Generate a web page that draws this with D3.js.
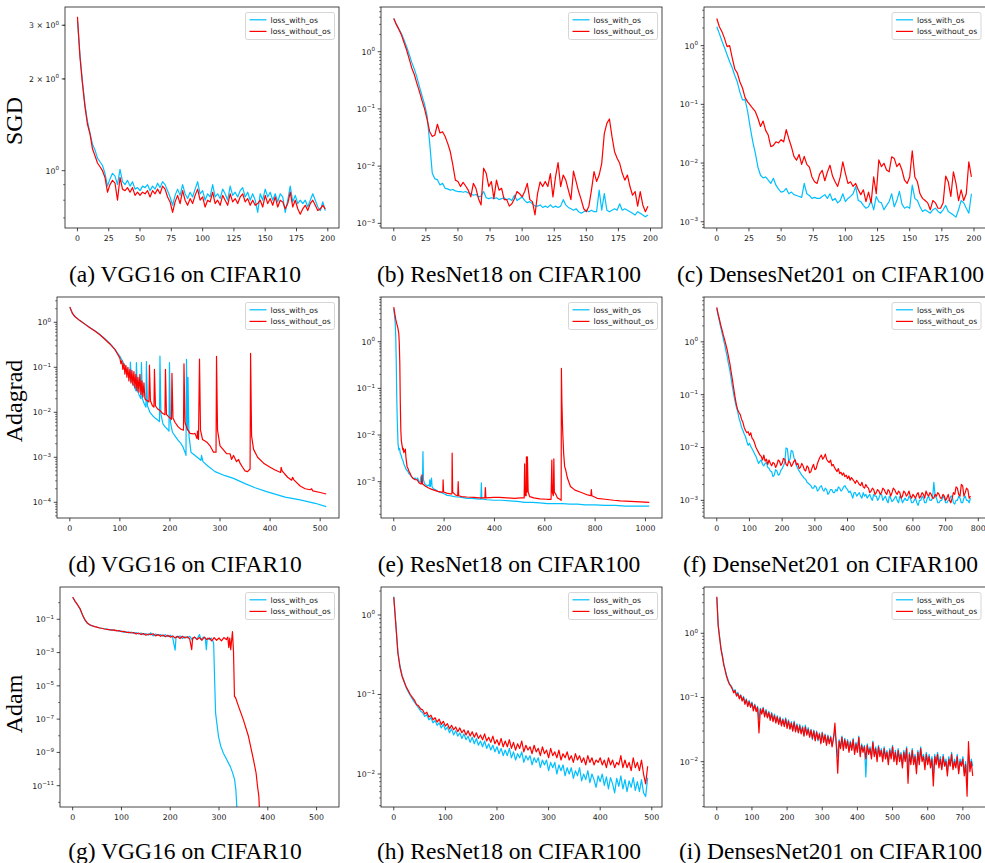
<!DOCTYPE html>
<html><head><meta charset="utf-8">
<script src="https://cdn.jsdelivr.net/npm/d3@7"></script>
<style>body{margin:0;background:#fff}svg{display:block}</style>
</head><body><svg id="c" width="985" height="863"></svg>
<script>
// ---------------- DATA ----------------
const rowLabels = ["SGD", "Adagrad", "Adam"];
const captions = ["(a) VGG16 on CIFAR10", "(b) ResNet18 on CIFAR100", "(c) DensesNet201 on CIFAR100",
  "(d) VGG16 on CIFAR10", "(e) ResNet18 on CIFAR100", "(f) DenseNet201 on CIFAR100",
  "(g) VGG16 on CIFAR10", "(h) ResNet18 on CIFAR100", "(i) DensesNet201 on CIFAR100"];
const seriesNames = ["loss_with_os", "loss_without_os"];

const xTicks200 = [0, 25, 50, 75, 100, 125, 150, 175, 200];
const xTicks500 = [0, 100, 200, 300, 400, 500];
const xTicks1000 = [0, 200, 400, 600, 800, 1000];
const xTicks800 = [0, 100, 200, 300, 400, 500, 600, 700, 800];
const xTicks700 = [0, 100, 200, 300, 400, 500, 600, 700];

const yTickValsA = [3, 2, 1];
const yTickTextA = ["3 × 10^0", "2 × 10^0", "10^0"];
const yExpB = [0, -1, -2, -3];
const yExpD = [0, -1, -2, -3, -4];
const yExpG = [-1, -3, -5, -7, -9, -11];
const yExpH = [0, -1, -2];

// (a) SGD VGG16, one value every 2 epochs
const aWith = [3.10,2.40,1.95,1.65,1.45,1.33,1.22,1.17,1.10,1.07,1.04,0.98,0.89,0.94,0.98,0.96,0.90,1.01,0.92,0.90,0.93,0.89,0.92,0.87,0.88,0.86,0.89,0.88,0.90,0.86,0.89,0.87,0.91,0.88,0.92,0.90,0.86,0.82,0.77,0.83,0.87,0.83,0.90,0.84,0.81,0.85,0.82,0.87,0.92,0.84,0.86,0.80,0.84,0.82,0.90,0.82,0.84,0.81,0.87,0.84,0.80,0.89,0.83,0.85,0.82,0.86,0.88,0.82,0.85,0.80,0.84,0.80,0.73,0.84,0.80,0.87,0.82,0.85,0.80,0.84,0.79,0.84,0.82,0.73,0.80,0.89,0.79,0.83,0.78,0.80,0.78,0.80,0.76,0.80,0.84,0.80,0.76,0.74,0.79,0.74];
const aWithout = [3.20,2.36,1.93,1.62,1.42,1.32,1.18,1.12,1.06,1.03,1.00,0.95,0.85,0.90,0.93,0.91,0.80,0.95,0.87,0.86,0.88,0.85,0.88,0.83,0.85,0.83,0.85,0.84,0.86,0.82,0.86,0.84,0.87,0.84,0.89,0.87,0.82,0.79,0.73,0.79,0.83,0.78,0.86,0.80,0.77,0.81,0.78,0.83,0.87,0.80,0.82,0.76,0.80,0.79,0.85,0.78,0.80,0.77,0.83,0.80,0.77,0.84,0.79,0.81,0.78,0.82,0.84,0.79,0.81,0.77,0.80,0.77,0.78,0.80,0.76,0.83,0.78,0.81,0.77,0.82,0.76,0.80,0.79,0.75,0.78,0.85,0.76,0.80,0.75,0.72,0.75,0.77,0.74,0.78,0.80,0.77,0.74,0.75,0.77,0.75];

// (b) SGD ResNet18, every 2 epochs
const bWith = [3.8,3.0,2.5,2.05,1.6,1.22,0.9,0.65,0.5,0.36,0.245,0.17,0.12,0.075,0.025,0.0075,0.006,0.0058,0.0047,0.0050,0.0041,0.0040,0.0038,0.0039,0.0037,0.0036,0.0036,0.0035,0.0036,0.0034,0.0033,0.0031,0.0032,0.0029,0.0030,0.0036,0.0028,0.0027,0.0028,0.0027,0.0028,0.0026,0.0027,0.0028,0.0026,0.0027,0.0025,0.0031,0.0025,0.0027,0.0029,0.0025,0.0023,0.0024,0.0022,0.0020,0.0020,0.0021,0.0019,0.0020,0.0019,0.0021,0.0019,0.0020,0.0019,0.0020,0.0026,0.0021,0.0019,0.0018,0.0017,0.0018,0.0016,0.0015,0.0016,0.0017,0.0016,0.0017,0.0016,0.0016,0.0038,0.0017,0.0033,0.0017,0.0016,0.0017,0.0018,0.0017,0.0022,0.0017,0.0018,0.0017,0.0016,0.0015,0.0014,0.0016,0.0015,0.0014,0.0013,0.0014];
const bWithout = [3.8,3.0,2.45,1.95,1.45,1.07,0.75,0.52,0.40,0.28,0.20,0.14,0.10,0.065,0.040,0.033,0.035,0.054,0.038,0.040,0.033,0.025,0.018,0.0105,0.0057,0.0054,0.0044,0.0052,0.0045,0.0038,0.0029,0.0050,0.0041,0.0027,0.0021,0.0092,0.0075,0.0044,0.0054,0.0027,0.0057,0.0038,0.0041,0.0026,0.0026,0.0020,0.0022,0.0027,0.0036,0.0033,0.0029,0.0036,0.0050,0.0026,0.0024,0.0014,0.0033,0.0053,0.0044,0.0054,0.0044,0.0074,0.0029,0.0065,0.0115,0.0044,0.0070,0.0057,0.0038,0.0026,0.0082,0.0054,0.0036,0.0026,0.0018,0.0016,0.0020,0.0038,0.0080,0.0054,0.0070,0.0112,0.037,0.056,0.0667,0.0327,0.0179,0.0137,0.0112,0.0075,0.0057,0.0070,0.0044,0.0031,0.0036,0.0020,0.0036,0.0021,0.0016,0.0020];

// (c) SGD DenseNet201, every 2 epochs
const cWith = [2.1,1.6,1.2,0.92,0.70,0.53,0.42,0.31,0.24,0.16,0.119,0.12,0.075,0.040,0.023,0.0146,0.0085,0.0062,0.0056,0.0058,0.0051,0.0045,0.0055,0.0042,0.0036,0.0032,0.0033,0.0037,0.0030,0.0032,0.0029,0.0028,0.0027,0.0026,0.0045,0.0030,0.0028,0.0025,0.0026,0.0025,0.0025,0.0027,0.0029,0.0025,0.0030,0.0023,0.0025,0.0021,0.0023,0.0030,0.0022,0.0025,0.0027,0.0030,0.0040,0.0023,0.0022,0.0019,0.0017,0.0018,0.0023,0.0016,0.0027,0.0022,0.0021,0.0016,0.0019,0.0022,0.0030,0.0018,0.0023,0.0033,0.0020,0.0017,0.0018,0.0017,0.0042,0.0025,0.0023,0.0018,0.0015,0.0016,0.0015,0.0014,0.0016,0.0017,0.0015,0.0014,0.0016,0.0019,0.0015,0.0014,0.0013,0.0012,0.0016,0.0023,0.0021,0.0017,0.0014,0.0030];
const cWithout = [2.9,2.1,1.73,1.33,0.96,1.0,0.62,0.40,0.34,0.24,0.19,0.13,0.11,0.097,0.085,0.075,0.058,0.042,0.052,0.036,0.030,0.019,0.020,0.023,0.022,0.025,0.023,0.037,0.026,0.019,0.013,0.0112,0.0140,0.0095,0.0130,0.0095,0.0085,0.0058,0.0048,0.0045,0.0065,0.0075,0.0050,0.0070,0.0092,0.0060,0.0048,0.0040,0.0058,0.0105,0.0067,0.0045,0.0048,0.0040,0.0045,0.0035,0.0029,0.0035,0.0022,0.0032,0.0021,0.0058,0.0030,0.0113,0.0087,0.0099,0.0076,0.0071,0.0128,0.0120,0.0087,0.0099,0.0076,0.0051,0.0045,0.0058,0.0162,0.0058,0.0048,0.0030,0.0025,0.0023,0.0021,0.0016,0.0023,0.0021,0.0017,0.0017,0.0021,0.0060,0.0048,0.0027,0.0071,0.0045,0.0023,0.0035,0.0023,0.0030,0.0105,0.0058];

// (d) Adagrad VGG16, [epoch, loss]
const dWith = [[0,2.15],[5,1.58],[10,1.34],[20,1.09],[30,0.92],[40,0.77],[50,0.65],[60,0.54],[70,0.43],[80,0.34],[90,0.25],[100,0.175],[105,0.14],[110,0.105],[115,0.08],[120,0.06],[121,0.13],[123,0.05],[127,0.042],[130,0.035],[132,0.03],[133,0.127],[135,0.03],[138,0.025],[142,0.02],[143,0.127],[145,0.02],[148,0.016],[152,0.013],[153,0.133],[155,0.014],[160,0.010],[165,0.0085],[170,0.0075],[175,0.0068],[179,0.0062],[180,0.178],[182,0.009],[186,0.0055],[190,0.0048],[195,0.0042],[198,0.0038],[199,0.127],[201,0.006],[205,0.0036],[210,0.003],[216,0.0024],[221,0.0021],[226,0.0017],[230,0.0013],[232,0.0011],[233,0.15],[235,0.004],[236,0.06],[238,0.003],[242,0.0013],[250,0.0011],[257,0.00095],[262,0.00085],[263,0.0011],[266,0.0008],[275,0.00065],[290,0.00048],[310,0.00039],[327,0.00034],[350,0.00026],[370,0.00021],[393,0.000173],[430,0.00013],[460,0.000113],[490,0.000095],[512,0.00008]];
const dWithout = [[0,2.2],[5,1.6],[10,1.35],[20,1.09],[30,0.91],[40,0.76],[50,0.64],[60,0.53],[70,0.42],[80,0.33],[90,0.25],[95,0.2],[100,0.16],[102,0.12],[104,0.14],[106,0.09],[108,0.12],[110,0.07],[112,0.11],[114,0.06],[116,0.10],[118,0.05],[120,0.09],[122,0.045],[124,0.085],[126,0.04],[128,0.08],[130,0.035],[132,0.07],[134,0.03],[136,0.06],[138,0.028],[140,0.07],[142,0.025],[144,0.05],[146,0.022],[148,0.045],[150,0.02],[152,0.019],[158,0.017],[159,0.112],[161,0.018],[165,0.014],[168,0.013],[169,0.09],[171,0.014],[175,0.012],[180,0.011],[185,0.0095],[190,0.0088],[191,0.09],[193,0.009],[198,0.0078],[203,0.007],[204,0.073],[206,0.0075],[210,0.006],[216,0.0048],[222,0.0042],[227,0.004],[228,0.12],[230,0.006],[234,0.0044],[240,0.0034],[246,0.0033],[250,0.0034],[254,0.0026],[255,0.0038],[257,0.0025],[259,0.153],[261,0.004],[265,0.0025],[270,0.0023],[275,0.0021],[280,0.0018],[287,0.0013],[292,0.0013],[293,0.176],[295,0.004],[300,0.0018],[306,0.0015],[313,0.0012],[320,0.0012],[323,0.0009],[327,0.0011],[333,0.0008],[337,0.0009],[340,0.00074],[345,0.0006],[350,0.0005],[355,0.00048],[360,0.00055],[361,0.205],[363,0.003],[367,0.0015],[375,0.001],[387,0.00074],[400,0.0006],[410,0.00052],[421,0.00046],[422,0.0006],[424,0.0005],[435,0.00036],[443,0.00031],[445,0.00036],[447,0.00032],[460,0.00023],[470,0.0002],[480,0.00019],[483,0.0002],[485,0.00018],[500,0.000165],[512,0.000153]];

// (e) Adagrad ResNet18, [epoch, loss]
const eWith = [[0,5.1],[3,3.6],[6,2.4],[8,1.2],[10,0.34],[12,0.06],[14,0.02],[17,0.0065],[20,0.0048],[23,0.0052],[26,0.004],[30,0.0036],[33,0.0031],[36,0.0029],[40,0.0024],[45,0.0021],[50,0.0018],[55,0.0017],[60,0.0015],[65,0.0014],[70,0.0013],[75,0.0012],[80,0.00115],[85,0.0012],[90,0.0011],[95,0.0012],[100,0.0010],[105,0.00098],[108,0.0013],[110,0.00095],[114,0.0009],[116,0.0044],[118,0.0011],[122,0.00092],[128,0.00085],[132,0.0008],[138,0.00085],[142,0.0008],[143,0.0011],[145,0.00078],[150,0.0012],[152,0.00078],[158,0.0007],[165,0.00068],[172,0.00064],[180,0.0006],[190,0.00058],[200,0.00055],[212,0.00051],[225,0.0005],[240,0.00048],[255,0.00047],[270,0.00046],[290,0.00044],[310,0.00044],[330,0.00043],[346,0.00042],[348,0.00095],[350,0.00043],[370,0.00041],[400,0.0004],[430,0.0004],[460,0.00039],[490,0.00038],[520,0.00036],[550,0.00036],[580,0.00035],[610,0.00034],[640,0.00034],[670,0.00034],[700,0.00033],[730,0.00033],[760,0.00032],[800,0.00032],[840,0.00031],[880,0.00031],[920,0.0003],[960,0.0003],[1000,0.0003],[1015,0.0003]];
const eWithout = [[0,5.5],[4,4.0],[8,3.0],[12,2.4],[16,2.0],[20,1.5],[22,0.9],[24,0.34],[26,0.05],[28,0.013],[30,0.0077],[33,0.006],[36,0.0048],[38,0.0052],[40,0.0042],[43,0.0045],[46,0.005],[48,0.0035],[50,0.0028],[53,0.0021],[57,0.0019],[60,0.0017],[66,0.00147],[70,0.0013],[75,0.0012],[80,0.00115],[86,0.0011],[93,0.0011],[100,0.00095],[106,0.0009],[110,0.0009],[112,0.0014],[114,0.0009],[120,0.00085],[126,0.0008],[135,0.00075],[146,0.0007],[160,0.00066],[175,0.00062],[190,0.0006],[195,0.0006],[196,0.0011],[198,0.0006],[210,0.00057],[225,0.00055],[231,0.00055],[232,0.0041],[234,0.0006],[245,0.00052],[254,0.0005],[256,0.001],[258,0.0005],[270,0.00048],[290,0.00047],[318,0.00046],[340,0.00045],[362,0.00045],[364,0.00075],[366,0.00045],[397,0.00046],[420,0.00046],[450,0.00045],[480,0.00044],[503,0.00045],[518,0.00045],[520,0.0024],[522,0.0005],[526,0.0005],[527,0.0034],[529,0.0006],[531,0.0034],[534,0.0006],[540,0.00048],[556,0.00045],[580,0.00043],[609,0.00042],[625,0.00042],[628,0.0029],[630,0.0006],[634,0.0005],[636,0.0031],[638,0.0006],[643,0.00055],[650,0.00045],[660,0.00042],[665,0.0004],[666,0.268],[668,0.05],[671,0.0128],[675,0.004],[679,0.0021],[683,0.0018],[690,0.0012],[702,0.00079],[720,0.00066],[740,0.0006],[755,0.00056],[770,0.00052],[783,0.0005],[785,0.00068],[787,0.0005],[808,0.00044],[840,0.00042],[874,0.0004],[900,0.00039],[940,0.00038],[980,0.00037],[1015,0.00036]];

// (f) Adagrad DenseNet201, every 4 epochs
const fWith = [4.3,3.2,2.5,1.9,1.5,1.15,0.9,0.68,0.52,0.38,0.29,0.2,0.14,0.1,0.075,0.058,0.048,0.036,0.030,0.024,0.021,0.018,0.016,0.013,0.011,0.012,0.0105,0.0095,0.0085,0.0075,0.0068,0.0058,0.0050,0.0055,0.0058,0.0048,0.0045,0.0050,0.0052,0.0042,0.0040,0.0036,0.0035,0.0028,0.0030,0.0038,0.0036,0.0030,0.0031,0.0037,0.0040,0.0045,0.0052,0.0098,0.0095,0.0055,0.0060,0.0088,0.0085,0.0065,0.0055,0.0045,0.0040,0.0036,0.0033,0.0030,0.0028,0.0026,0.0025,0.0022,0.0021,0.0020,0.0019,0.0017,0.0017,0.0019,0.0018,0.0015,0.0016,0.0018,0.0019,0.0016,0.0015,0.0017,0.0016,0.0013,0.0014,0.0016,0.0016,0.0014,0.0014,0.0016,0.0015,0.0018,0.0017,0.0015,0.0016,0.0018,0.0019,0.0017,0.0016,0.0014,0.0015,0.0013,0.0011,0.0014,0.0014,0.0012,0.0013,0.0014,0.0012,0.0011,0.0014,0.0012,0.0013,0.0011,0.0012,0.0013,0.0011,0.0010,0.0013,0.0012,0.0012,0.0010,0.0011,0.0013,0.0013,0.0010,0.0011,0.0012,0.0010,0.0009,0.0012,0.0011,0.00095,0.0010,0.0011,0.0012,0.0010,0.0009,0.0012,0.0011,0.0009,0.0010,0.0011,0.0010,0.0010,0.0012,0.0011,0.0009,0.0009,0.0010,0.0011,0.0009,0.0008,0.0010,0.0010,0.0012,0.0011,0.0009,0.0009,0.0011,0.0012,0.0010,0.0010,0.0011,0.0022,0.0012,0.0011,0.0009,0.0009,0.0010,0.0010,0.0012,0.0011,0.0009,0.0009,0.0010,0.0010,0.0012,0.0012,0.0009,0.00085,0.0010,0.0010,0.0012,0.0011,0.0009,0.0009,0.0011,0.0012,0.0010,0.0010,0.0009,0.0011];
const fWithout = [4.5,3.4,2.7,2.1,1.7,1.35,1.1,0.88,0.7,0.52,0.39,0.27,0.19,0.13,0.09,0.065,0.052,0.046,0.042,0.034,0.030,0.024,0.021,0.019,0.020,0.017,0.019,0.015,0.014,0.012,0.010,0.009,0.0080,0.0072,0.0068,0.0058,0.0072,0.0055,0.0060,0.0048,0.0058,0.0050,0.0045,0.0052,0.0050,0.0042,0.0047,0.0058,0.0055,0.0046,0.0050,0.0062,0.0060,0.0048,0.0045,0.0056,0.0052,0.0044,0.0048,0.0055,0.0058,0.0047,0.0050,0.0040,0.0042,0.0050,0.0045,0.0038,0.0036,0.0045,0.0042,0.0033,0.0035,0.0042,0.0048,0.0038,0.0040,0.0050,0.0058,0.0066,0.0072,0.0060,0.0065,0.0075,0.0060,0.0055,0.0052,0.0058,0.0045,0.0048,0.0042,0.0038,0.0035,0.0040,0.0032,0.0034,0.0030,0.0033,0.0028,0.0030,0.0026,0.0029,0.0024,0.0027,0.0025,0.0023,0.0021,0.0024,0.0022,0.0020,0.0019,0.0022,0.0018,0.0017,0.0020,0.0018,0.0017,0.0014,0.0015,0.0017,0.0016,0.0013,0.0014,0.0016,0.0015,0.0013,0.0014,0.0017,0.0016,0.0014,0.0013,0.0016,0.0015,0.0012,0.0014,0.0017,0.0016,0.0014,0.0013,0.0015,0.0014,0.0011,0.0012,0.0015,0.0014,0.0012,0.0013,0.0015,0.0012,0.0011,0.0013,0.0012,0.0011,0.0013,0.0014,0.0011,0.0012,0.0014,0.0013,0.0011,0.0015,0.0013,0.0012,0.0014,0.0013,0.0011,0.0011,0.0013,0.0012,0.0014,0.0013,0.0011,0.0011,0.0013,0.0012,0.0010,0.0011,0.0013,0.0010,0.0009,0.0011,0.0014,0.0013,0.0018,0.0017,0.0013,0.0012,0.0020,0.0019,0.0012,0.0014,0.0017,0.0016,0.0011,0.0012];

// (g) Adam VGG16, [epoch, loss]
const gWith = [[0,2.1],[5,1.15],[10,0.72],[15,0.42],[20,0.18],[25,0.09],[30,0.057],[35,0.046],[40,0.040],[45,0.037],[50,0.033],[55,0.031],[60,0.028],[65,0.027],[70,0.026],[75,0.023],[80,0.024],[85,0.021],[90,0.022],[95,0.019],[100,0.020],[105,0.016],[110,0.018],[115,0.015],[120,0.017],[125,0.014],[130,0.016],[135,0.013],[140,0.015],[145,0.012],[150,0.014],[155,0.011],[160,0.015],[165,0.010],[170,0.013],[175,0.011],[180,0.012],[185,0.0095],[190,0.012],[195,0.009],[200,0.011],[205,0.008],[210,0.0014],[212,0.009],[215,0.0085],[220,0.010],[225,0.007],[230,0.009],[235,0.0075],[240,0.0095],[245,0.006],[250,0.0085],[255,0.0065],[260,0.012],[263,0.006],[268,0.0085],[272,0.007],[274,0.0015],[276,0.0075],[280,0.006],[284,0.0075],[287,0.0055],[289,0.0036],[291,2.3e-5],[293,2.3e-7],[295.5,5.8e-8],[299,9e-9],[303.7,2.3e-9],[309,9e-10],[316,3.6e-10],[323,1.45e-10],[327.6,6.3e-11],[332,2.3e-11],[334.5,5.8e-12],[336.5,5.8e-13],[338,1e-14]];
const gWithout = [[0,2.2],[5,1.2],[10,0.75],[15,0.44],[20,0.19],[25,0.095],[30,0.06],[35,0.047],[40,0.041],[45,0.036],[50,0.034],[55,0.030],[60,0.029],[65,0.026],[70,0.025],[75,0.024],[80,0.022],[85,0.023],[90,0.020],[95,0.021],[100,0.018],[105,0.019],[110,0.016],[115,0.017],[120,0.015],[125,0.016],[130,0.013],[135,0.015],[140,0.012],[145,0.014],[150,0.011],[155,0.013],[160,0.012],[165,0.0135],[170,0.010],[175,0.012],[180,0.0095],[185,0.0115],[190,0.009],[195,0.011],[200,0.0085],[205,0.010],[210,0.0075],[215,0.0095],[220,0.007],[225,0.0095],[230,0.0075],[235,0.009],[240,0.0065],[244,0.0015],[246,0.0075],[250,0.0085],[255,0.006],[260,0.008],[265,0.0055],[270,0.0085],[275,0.006],[280,0.0075],[285,0.005],[290,0.008],[295,0.0055],[300,0.0075],[305,0.005],[310,0.008],[315,0.006],[318,0.0085],[320,0.002],[322,0.0075],[324,0.0015],[326,0.006],[327.6,0.018],[329.7,0.00115],[331.7,2.3e-6],[333.8,2e-6],[340,5.8e-7],[350,9e-8],[360.5,9e-9],[370.7,3.6e-10],[376,5.8e-11],[379,9e-12],[381.7,2.3e-12],[383.7,1e-13]];

// (h) Adam ResNet18, every 4 epochs
const hWith = [1.70,0.78,0.34,0.23,0.175,0.148,0.122,0.108,0.097,0.088,0.080,0.074,0.068,0.062,0.059,0.053,0.056,0.048,0.051,0.044,0.047,0.041,0.044,0.038,0.042,0.036,0.039,0.033,0.037,0.031,0.035,0.030,0.033,0.028,0.032,0.027,0.030,0.025,0.029,0.024,0.028,0.023,0.026,0.022,0.026,0.021,0.024,0.020,0.023,0.019,0.022,0.018,0.021,0.017,0.020,0.017,0.021,0.016,0.019,0.015,0.018,0.016,0.019,0.014,0.017,0.015,0.017,0.013,0.016,0.014,0.016,0.012,0.015,0.013,0.015,0.011,0.014,0.012,0.014,0.010,0.013,0.011,0.013,0.0095,0.012,0.010,0.012,0.0088,0.011,0.0095,0.012,0.0082,0.010,0.0085,0.011,0.0078,0.010,0.0085,0.0068,0.0095,0.0080,0.0100,0.0072,0.0092,0.0065,0.0090,0.0075,0.0058,0.0088,0.0070,0.0095,0.0065,0.0085,0.0060,0.0082,0.0068,0.0090,0.0062,0.0080,0.0060,0.0085,0.0058,0.0052,0.0090];
const hWithout = [1.67,0.75,0.33,0.22,0.17,0.145,0.125,0.112,0.10,0.092,0.085,0.075,0.072,0.066,0.064,0.057,0.060,0.052,0.055,0.048,0.051,0.045,0.049,0.042,0.046,0.040,0.043,0.037,0.041,0.036,0.039,0.034,0.038,0.033,0.036,0.031,0.035,0.030,0.034,0.029,0.033,0.028,0.031,0.027,0.032,0.026,0.029,0.025,0.030,0.024,0.027,0.023,0.028,0.022,0.026,0.022,0.027,0.021,0.025,0.020,0.024,0.021,0.026,0.019,0.023,0.020,0.022,0.018,0.023,0.019,0.021,0.017,0.022,0.018,0.020,0.016,0.021,0.017,0.019,0.016,0.020,0.015,0.018,0.016,0.019,0.015,0.017,0.014,0.018,0.015,0.017,0.014,0.016,0.013,0.017,0.014,0.016,0.013,0.015,0.014,0.016,0.013,0.015,0.012,0.016,0.013,0.015,0.012,0.014,0.013,0.017,0.012,0.015,0.012,0.014,0.011,0.016,0.012,0.014,0.011,0.015,0.010,0.0075,0.0125];

// (i) Adam DenseNet201, every 4 epochs
const iWith = [3.6,1.35,0.88,0.58,0.45,0.33,0.27,0.22,0.19,0.165,0.155,0.14,0.125,0.132,0.11,0.12,0.10,0.11,0.092,0.104,0.082,0.095,0.076,0.09,0.073,0.085,0.066,0.079,0.063,0.073,0.045,0.068,0.058,0.07,0.053,0.065,0.05,0.061,0.047,0.058,0.044,0.055,0.042,0.052,0.04,0.05,0.038,0.047,0.037,0.048,0.035,0.045,0.033,0.042,0.031,0.043,0.03,0.039,0.029,0.038,0.028,0.036,0.026,0.037,0.027,0.034,0.025,0.032,0.022,0.031,0.022,0.030,0.021,0.028,0.020,0.029,0.021,0.027,0.019,0.026,0.020,0.025,0.018,0.024,0.030,0.019,0.012,0.022,0.017,0.025,0.016,0.023,0.017,0.022,0.015,0.021,0.016,0.023,0.014,0.020,0.015,0.025,0.013,0.019,0.015,0.018,0.0058,0.019,0.014,0.017,0.012,0.021,0.013,0.017,0.011,0.018,0.013,0.016,0.011,0.017,0.012,0.015,0.010,0.016,0.012,0.018,0.011,0.015,0.010,0.016,0.011,0.014,0.009,0.015,0.011,0.017,0.008,0.014,0.010,0.016,0.010,0.013,0.008,0.015,0.010,0.017,0.011,0.013,0.009,0.014,0.010,0.013,0.009,0.012,0.006,0.013,0.010,0.014,0.009,0.012,0.008,0.013,0.009,0.011,0.007,0.012,0.009,0.014,0.008,0.011,0.009,0.013,0.007,0.011,0.009,0.012,0.007,0.010,0.005,0.013,0.008,0.011,0.0085];
const iWithout = [3.7,1.3,0.85,0.56,0.43,0.32,0.26,0.21,0.18,0.16,0.15,0.135,0.118,0.128,0.105,0.115,0.095,0.108,0.088,0.10,0.078,0.092,0.072,0.086,0.070,0.082,0.062,0.076,0.060,0.070,0.028,0.066,0.055,0.068,0.050,0.062,0.048,0.058,0.044,0.056,0.042,0.052,0.040,0.050,0.038,0.048,0.036,0.045,0.035,0.046,0.033,0.043,0.032,0.040,0.030,0.041,0.029,0.037,0.028,0.036,0.027,0.034,0.025,0.035,0.026,0.032,0.024,0.031,0.023,0.030,0.021,0.029,0.022,0.027,0.019,0.028,0.020,0.026,0.018,0.025,0.019,0.024,0.017,0.023,0.040,0.018,0.0066,0.021,0.016,0.024,0.015,0.022,0.016,0.021,0.014,0.020,0.015,0.022,0.013,0.019,0.014,0.024,0.012,0.018,0.014,0.017,0.011,0.018,0.013,0.016,0.011,0.020,0.012,0.016,0.010,0.017,0.012,0.015,0.010,0.016,0.011,0.014,0.009,0.015,0.011,0.017,0.010,0.014,0.009,0.015,0.010,0.013,0.008,0.014,0.010,0.016,0.0046,0.013,0.009,0.015,0.009,0.012,0.0065,0.014,0.009,0.016,0.010,0.012,0.0075,0.013,0.009,0.012,0.008,0.011,0.0042,0.012,0.009,0.013,0.008,0.011,0.0075,0.012,0.0085,0.010,0.006,0.011,0.0085,0.013,0.0075,0.010,0.008,0.012,0.0065,0.010,0.0085,0.011,0.006,0.009,0.0029,0.0205,0.007,0.010,0.006];

// ---------------- DRAWING ----------------
const BLUE = "#00bfff", RED = "#ff0000";
const SANS = "DejaVu Sans, sans-serif";
const SERIF = "Liberation Serif, 'Times New Roman', serif";
const MINUS = "\u2212";
const svg = d3.select("#c");
const stepped = (arr, step) => arr.map((v, i) => [i * step, v]);
const decadeTicks = exps => exps.map(e => ({v: Math.pow(10, e), base: "10", exp: (e < 0 ? MINUS + (-e) : String(e))}));
const textTicks = (vals, texts) => vals.map((v, i) => { const [b, e] = texts[i].split("^"); return {v, base: b, exp: e}; });

const C1 = 339, C2L = 381, C2R = 662, C3L = 704, C3R = 985.5;
const panels = [
  {box:[65,C1,7,228],    xlim:[-9.95,208.95], ylim:[-0.188,0.537], xt:xTicks200, yt:textTicks(yTickValsA,yTickTextA), minor:"sub", blue:stepped(aWith,2), red:stepped(aWithout,2)},
  {box:[C2L,C2R,7,228],  xlim:[-9.95,208.95], ylim:[-3.081,0.781], xt:xTicks200, yt:decadeTicks(yExpB), minor:"sub", blue:stepped(bWith,2), red:stepped(bWithout,2)},
  {box:[C3L,C3R,7,228],  xlim:[-9.95,208.95], ylim:[-3.106,0.658], xt:xTicks200, yt:decadeTicks(yExpB), minor:"sub", blue:stepped(cWith,2), red:stepped(cWithout,2)},
  {box:[57,C1,297,518],  xlim:[-25.6,537.6],  ylim:[-4.349,0.562], xt:xTicks500, yt:decadeTicks(yExpD), minor:"sub", blue:dWith, red:dWithout},
  {box:[C2L,C2R,297,518],xlim:[-50.7,1065.7], ylim:[-3.778,0.958], xt:xTicks1000, yt:decadeTicks(yExpB), minor:"sub", blue:eWith, red:eWithout},
  {box:[C3L,C3R,297,518],xlim:[-39,822],      ylim:[-3.334,0.848], xt:xTicks800, yt:decadeTicks(yExpB), minor:"sub", blue:stepped(fWith,4), red:stepped(fWithout,4)},
  {box:[60,C1,587,807],  xlim:[-26,546],      ylim:[-12.28,0.94],  xt:xTicks500, yt:decadeTicks(yExpG), minor:"decade", blue:gWith, red:gWithout},
  {box:[C2L,C2R,587,807],xlim:[-24.75,519.75],ylim:[-2.415,0.352], xt:xTicks500, yt:decadeTicks(yExpH), minor:"sub", blue:stepped(hWith,4), red:stepped(hWithout,4)},
  {box:[C3L,C3R,587,807],xlim:[-36.4,764.4],  ylim:[-2.706,0.721], xt:xTicks700, yt:decadeTicks(yExpH), minor:"sub", blue:stepped(iWith,4), red:stepped(iWithout,4)}
];
const captionX = [185, 509, 830.5];
const captionY = [282, 572, 859];
const rowLabelY = [121, 401, 704];

const defs = svg.append("defs");

panels.forEach((p, idx) => {
  const [x0, x1, y0, y1] = p.box;
  const x = d3.scaleLinear().domain(p.xlim).range([x0, x1]);
  const y = d3.scaleLog().domain([Math.pow(10, p.ylim[0]), Math.pow(10, p.ylim[1])]).range([y1, y0]);
  const g = svg.append("g");
  defs.append("clipPath").attr("id", "clip" + idx).append("rect")
    .attr("x", x0).attr("y", y0).attr("width", x1 - x0).attr("height", y1 - y0);

  const line = d3.line().x(d => x(d[0])).y(d => y(d[1]));
  [[p.blue, BLUE], [p.red, RED]].forEach(([data, col]) => {
    g.append("path").datum(data).attr("d", line).attr("fill", "none")
      .attr("stroke", col).attr("stroke-width", 1.2).attr("stroke-linejoin", "round")
      .attr("clip-path", `url(#clip${idx})`);
  });

  // frame
  g.append("rect").attr("x", x0).attr("y", y0).attr("width", x1 - x0).attr("height", y1 - y0)
    .attr("fill", "none").attr("stroke", "#1a1a1a").attr("stroke-width", 0.8);

  // x ticks
  p.xt.forEach(t => {
    const xx = x(t);
    if (xx < x0 - 0.5 || xx > x1 + 0.5) return;
    g.append("line").attr("x1", xx).attr("x2", xx).attr("y1", y1).attr("y2", y1 + 3.3)
      .attr("stroke", "#1a1a1a").attr("stroke-width", 0.8);
    g.append("text").attr("x", xx).attr("y", y1 + 12.5).attr("text-anchor", "middle")
      .attr("font-family", SANS).attr("font-size", 7.8).attr("fill", "#1a1a1a").text(t);
  });

  // minor y ticks
  const [lo, hi] = y.domain();
  const minors = [];
  for (let k = Math.floor(Math.log10(lo)) - 1; k <= Math.ceil(Math.log10(hi)); k++) {
    if (p.minor === "sub") {
      for (let m = 2; m <= 9; m++) minors.push(m * Math.pow(10, k));
    } else if (Math.abs(k) % 2 === 0) minors.push(Math.pow(10, k));
  }
  minors.filter(v => v >= lo && v <= hi).forEach(v => {
    g.append("line").attr("x1", x0 - 1.9).attr("x2", x0).attr("y1", y(v)).attr("y2", y(v))
      .attr("stroke", "#1a1a1a").attr("stroke-width", 0.6);
  });

  // major / labelled y ticks
  p.yt.forEach(t => {
    const yy = y(t.v);
    g.append("line").attr("x1", x0 - 3.3).attr("x2", x0).attr("y1", yy).attr("y2", yy)
      .attr("stroke", "#1a1a1a").attr("stroke-width", 0.8);
    const tx = g.append("text").attr("x", x0 - 6).attr("y", yy + 2.9).attr("text-anchor", "end")
      .attr("font-family", SANS).attr("font-size", 7.8).attr("fill", "#1a1a1a");
    tx.append("tspan").text(t.base);
    tx.append("tspan").attr("dy", -3.4).attr("font-size", 5.6).text(t.exp);
  });

  // legend
  const bw = 89, bh = 27;
  const bx = x1 - 4.5 - bw, by = y0 + 5.5;
  g.append("rect").attr("x", bx).attr("y", by).attr("width", bw).attr("height", bh).attr("rx", 2)
    .attr("fill", "#fff").attr("fill-opacity", 0.8).attr("stroke", "#cccccc").attr("stroke-width", 0.8);
  [BLUE, RED].forEach((col, i) => {
    const ry = by + 7.3 + i * 11.6;
    g.append("line").attr("x1", bx + 4).attr("x2", bx + 21).attr("y1", ry).attr("y2", ry)
      .attr("stroke", col).attr("stroke-width", 1.2);
    g.append("text").attr("x", bx + 25).attr("y", ry + 2.8).attr("font-family", SANS)
      .attr("font-size", 7.7).attr("fill", "#1a1a1a").text(seriesNames[i]);
  });

  // caption
  const col = idx % 3, row = Math.floor(idx / 3);
  svg.append("text").attr("x", captionX[col]).attr("y", captionY[row]).attr("text-anchor", "middle")
    .attr("font-family", SERIF).attr("font-size", 23.5).attr("fill", "#000").text(captions[idx]);
});

rowLabels.forEach((lab, r) => {
  svg.append("text").attr("transform", `translate(22,${rowLabelY[r]}) rotate(-90)`)
    .attr("text-anchor", "middle").attr("font-family", SERIF).attr("font-size", 24)
    .attr("fill", "#000").text(lab);
});
</script></body></html>
